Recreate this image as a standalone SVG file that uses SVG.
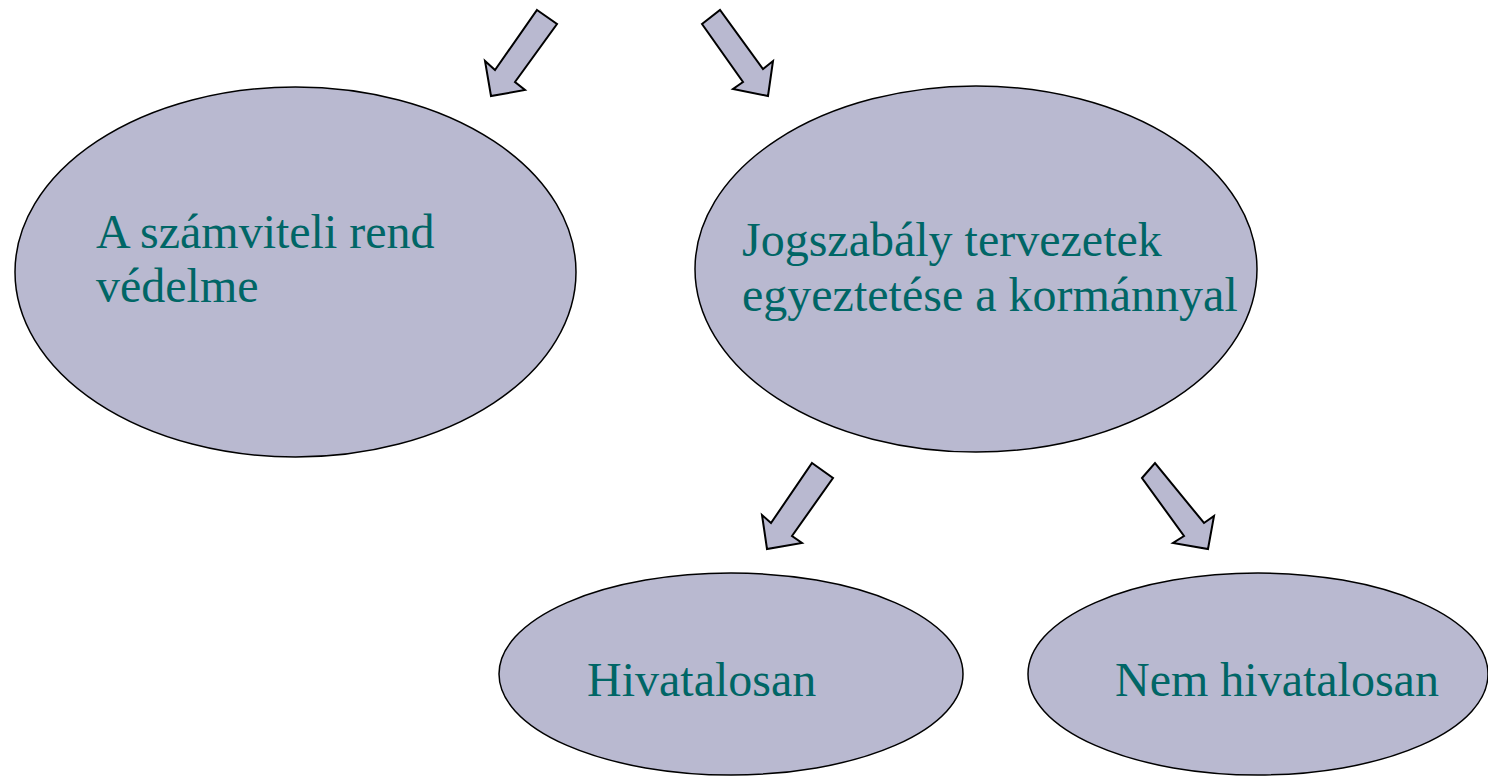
<svg xmlns="http://www.w3.org/2000/svg" width="1488" height="779" viewBox="0 0 1488 779">
  <style>
    .node { fill: #B9B9D0; stroke: #000; stroke-width: 1.5; }
    .arrow { fill: #B9B9D0; stroke: #000; stroke-width: 2; stroke-linejoin: miter; }
    .label { font-family: "Liberation Serif", "Times New Roman", serif; font-size: 48px; fill: #006666; }
  </style>
  <rect width="1488" height="779" fill="#fff"/>

  <g id="connectors">
    <polygon class="arrow" points="537,10 557,24 515,82 525,90 491,96 485,61 495,70"/>
    <polygon class="arrow" points="702,24 720,10 763,69 773,61 768,96 733,89 743,82"/>
    <polygon class="arrow" points="812,463 833,478 792,536 802,543 767,549 762,515 771,523"/>
    <polygon class="arrow" points="1142,478 1155,463 1204,523 1214,516 1208,549 1173,543 1184,536"/>
  </g>

  <g id="node-szamviteli">
    <ellipse class="node" cx="295.5" cy="272" rx="280.5" ry="185"/>
    <text class="label" x="96" y="248">A számviteli rend</text>
    <text class="label" x="96" y="302">védelme</text>
  </g>

  <g id="node-jogszabaly">
    <ellipse class="node" cx="976" cy="269" rx="281" ry="183"/>
    <text class="label" x="742" y="256">Jogszabály tervezetek</text>
    <text class="label" x="742" y="311">egyeztetése a kormánnyal</text>
  </g>

  <g id="node-hivatalosan">
    <ellipse class="node" cx="731" cy="674" rx="232" ry="101"/>
    <text class="label" x="587" y="696">Hivatalosan</text>
  </g>

  <g id="node-nem-hivatalosan">
    <ellipse class="node" cx="1258" cy="674" rx="230" ry="101"/>
    <text class="label" x="1115" y="696">Nem hivatalosan</text>
  </g>
</svg>
